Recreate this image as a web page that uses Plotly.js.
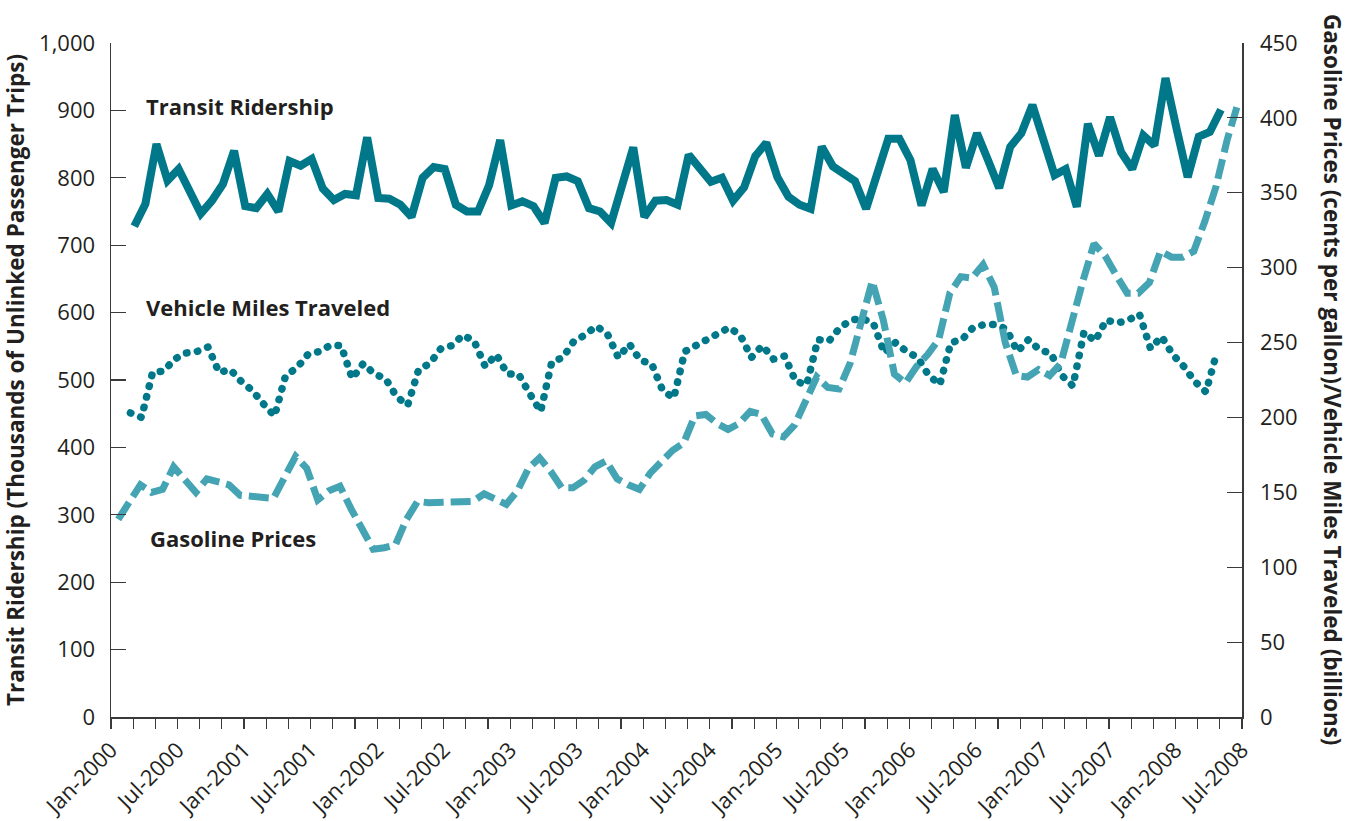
<!DOCTYPE html>
<html><head><meta charset="utf-8">
<script src="https://cdn.plot.ly/plotly-3.0.1.min.js"></script>
<style>html,body{margin:0;padding:0;background:#fff;} #chart{width:1352px;height:821px;}</style>
</head><body><div id="chart"></div>
<script>
const tickLabels = ["Jan-2000","Jul-2000","Jan-2001","Jul-2001","Jan-2002","Jul-2002","Jan-2003","Jul-2003","Jan-2004","Jul-2004","Jan-2005","Jul-2005","Jan-2006","Jul-2006","Jan-2007","Jul-2007","Jan-2008","Jul-2008"];

// Transit ridership (thousands of unlinked passenger trips), monthly
const transitRidership = [728,761,850,796,813,781,747,766,791,840,758,755,776,750,825,818,828,784,767,776,774,860,770,769,760,742,800,816,813,760,750,750,789,856,
759,765,758,733,800,802,795,755,750,733,789,845,742,766,767,760,834,813,794,800,766,786,832,852,801,772,760,754,846,817,807,795,754,
806,858,858,826,759,813,779,893,815,866,826,785,846,866,908,856,804,813,757,880,833,890,838,813,863,848,948,873,801,861,868,901];

// Vehicle miles traveled (billions), monthly
const vehicleMilesTraveled = [203,200,230,231,239,243,244,247,230,232,224,218,209,201,228,233,242,244,248,248,226,236,229,226,214,208,232,236,246,248,
255,251,234,242,229,229,216,204,237,240,251,255,261,256,240,249,238,236,218,213,244,248,252,256,260,255,240,248,239,241,
224,222,252,251,260,265,266,263,243,250,244,240,228,222,250,252,260,262,262,259,244,252,245,243,228,221,257,251,265,263,
265,269,246,254,242,234,224,217,244];

// Gasoline prices (cents per gallon), monthly
const gasolinePrices = [132,144,155,150,152,167,158,150,159,157,155,148,147,147,146,160,174,166,145,151,154,139,125,112,113,115,132,144,143,143,
143,143,144,149,145,142,151,166,173,164,153,153,158,167,171,159,155,152,163,170,178,183,201,202,196,192,196,204,202,189,
187,195,211,227,220,219,236,263,291,265,229,223,234,242,252,283,294,293,302,287,250,228,227,232,228,236,265,291,316,308,
295,283,283,290,311,307,307,311,331,354,385,410];

const transitStart = 2.1, vmtStart = 1.75, gasStart = 0.65;
function monthPositions(start, n){ return Array.from({length:n}, (_, i) => start + i); }
const tickVals = tickLabels.map((_, i) => i * 6);

const axisColor = '#3a3a3a';
const textColor = '#231f20';
const darkTeal = '#00788a';
const lightTeal = '#45a4b3';

const traces = [
  {x: monthPositions(transitStart, transitRidership.length), y: transitRidership, type:'scatter', mode:'lines',
   line:{color:darkTeal, width:8}, yaxis:'y', hoverinfo:'skip'},
  {x: monthPositions(vmtStart, vehicleMilesTraveled.length), y: vehicleMilesTraveled, type:'scatter', mode:'lines',
   line:{color:darkTeal, width:7.5, dash:'0.5px,10.5px'}, yaxis:'y2', hoverinfo:'skip'},
  {x: monthPositions(gasStart, gasolinePrices.length), y: gasolinePrices, type:'scatter', mode:'lines',
   line:{color:lightTeal, width:7, dash:'20px,7px'}, yaxis:'y2', hoverinfo:'skip'}
];

const layout = {
  width:1352, height:821,
  margin:{l:111, r:110, t:43, b:104},
  paper_bgcolor:'#ffffff', plot_bgcolor:'#ffffff',
  showlegend:false,
  font:{family:'"Open Sans", "Noto Sans", sans-serif', color:textColor, size:22},
  xaxis:{
    range:[0,102], tickmode:'array', tickvals:tickVals, ticktext:tickLabels, tickangle:-45,
    ticks:'outside', ticklen:10, tickwidth:1.2, tickcolor:axisColor,
    showline:true, linecolor:axisColor, linewidth:1.5, showgrid:false, zeroline:false,
    tickfont:{size:22, color:textColor},
    minor:{tickmode:'linear', tick0:0, dtick:2, ticks:'outside', ticklen:10, tickwidth:1.2, tickcolor:axisColor, showgrid:false}
  },
  yaxis:{
    range:[0,1000], tick0:0, dtick:100, tickformat:',d',
    ticks:'inside', ticklen:15, tickwidth:1.2, tickcolor:axisColor,
    showline:true, linecolor:axisColor, linewidth:1.5, showgrid:false, zeroline:false,
    tickfont:{size:22, color:textColor}, ticklabelstandoff:10,
    title:{text:'Transit Ridership (Thousands of Unlinked Passenger Trips)', font:{size:22.5, weight:700, color:textColor}, standoff:9}
  },
  yaxis2:{
    range:[0,450], tick0:0, dtick:50, overlaying:'y', side:'right',
    ticks:'inside', ticklen:15, tickwidth:1.2, tickcolor:axisColor,
    showline:true, linecolor:axisColor, linewidth:1.5, showgrid:false, zeroline:false,
    tickfont:{size:22, color:textColor}, ticklabelstandoff:12
  },
  annotations:[
    {text:'Gasoline Prices (cents per gallon)/Vehicle Miles Traveled (billions)', xref:'paper', yref:'paper',
     x:1.0805, y:0.5, xanchor:'center', yanchor:'middle', textangle:90, showarrow:false,
     font:{size:22.5, weight:700, color:textColor}},
    {text:'Transit Ridership', xref:'x', yref:'y', x:2.95, y:906, xanchor:'left', yanchor:'middle', showarrow:false,
     font:{size:22, weight:700, color:textColor}},
    {text:'Vehicle Miles Traveled', xref:'x', yref:'y', x:2.95, y:608, xanchor:'left', yanchor:'middle', showarrow:false,
     font:{size:22, weight:700, color:textColor}},
    {text:'Gasoline Prices', xref:'x', yref:'y', x:3.3, y:265, xanchor:'left', yanchor:'middle', showarrow:false,
     font:{size:22, weight:700, color:textColor}}
  ]
};

Plotly.newPlot('chart', traces, layout, {displayModeBar:false, staticPlot:true}).then(gd => {
  gd.querySelectorAll('.scatterlayer .js-line').forEach(p => {
    const da = p.style.strokeDasharray || p.getAttribute('stroke-dasharray') || '';
    if (da.indexOf('0.5') === 0) { p.style.strokeLinecap = 'round'; }
  });
});
</script>
</body></html>
